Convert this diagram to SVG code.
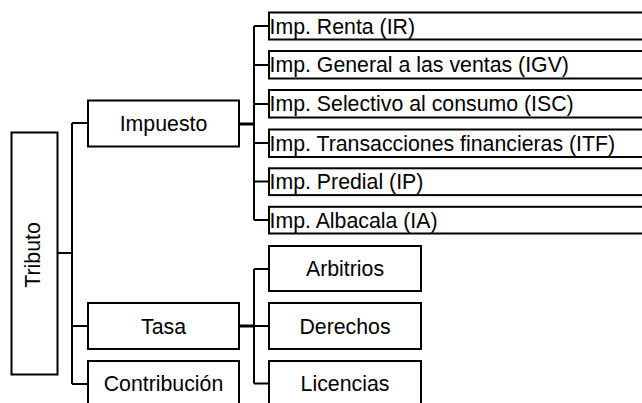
<svg xmlns="http://www.w3.org/2000/svg" width="642" height="403" viewBox="0 0 642 403">
<style>
.box{fill:#fff;stroke:#000;stroke-width:2}
.ln{fill:none;stroke:#000;stroke-width:2}
.thick{fill:none;stroke:#000;stroke-width:3}
text{font-family:"Liberation Sans",Arial,sans-serif;font-size:21.3px;fill:#000}
.c{text-anchor:middle}
</style>
<rect width="642" height="403" fill="#fff"/>
<g id="connectors">
<path class="ln" d="M57.5 253H72M72 123V384M72 123H88M72 326H88M72 384H88"/>
<path class="thick" d="M239 124H254M239 326H254"/>
<path class="ln" d="M254 26V220M254 26H269M254 65H269M254 104H269M254 143H269M254 181.5H269M254 220H269"/>
<path class="ln" d="M254 269V383.5M254 269H269M254 326H269M254 383.5H269"/>
</g>
<g id="tributo"><rect class="box" x="11.5" y="132.5" width="46" height="242"/><text class="c" transform="translate(40,255) rotate(-90)">Tributo</text></g>
<g id="impuesto"><rect class="box" x="88" y="100.5" width="151" height="46"/><text class="c" x="163.5" y="130.5">Impuesto</text></g>
<g id="tasa"><rect class="box" x="88" y="303" width="151" height="46"/><text class="c" x="163.5" y="333.5">Tasa</text></g>
<g id="contribucion"><rect class="box" x="88" y="361" width="151" height="46"/><text class="c" x="163.5" y="391">Contribución</text></g>
<g id="ir"><rect class="box" x="269" y="12.5" width="390" height="27"/><text x="269.5" y="33.5">Imp. Renta (IR)</text></g>
<g id="igv"><rect class="box" x="269" y="51" width="390" height="27.5"/><text x="269.5" y="72.3">Imp. General a las ventas (IGV)</text></g>
<g id="isc"><rect class="box" x="269" y="90" width="390" height="27.5"/><text x="269.5" y="111.3">Imp. Selectivo al consumo (ISC)</text></g>
<g id="itf"><rect class="box" x="269" y="129.5" width="390" height="27.5"/><text x="269.5" y="150.5">Imp. Transacciones financieras (ITF)</text></g>
<g id="ip"><rect class="box" x="269" y="168.3" width="390" height="26.8"/><text x="269.5" y="189">Imp. Predial (IP)</text></g>
<g id="ia"><rect class="box" x="269" y="206.8" width="390" height="26.7"/><text x="269.5" y="227.5">Imp. Albacala (IA)</text></g>
<g id="arbitrios"><rect class="box" x="269" y="246" width="152" height="45"/><text class="c" x="345" y="276">Arbitrios</text></g>
<g id="derechos"><rect class="box" x="269" y="303" width="152" height="46"/><text class="c" x="345" y="333.5">Derechos</text></g>
<g id="licencias"><rect class="box" x="269" y="361" width="152" height="46"/><text class="c" x="345" y="391">Licencias</text></g>
</svg>
